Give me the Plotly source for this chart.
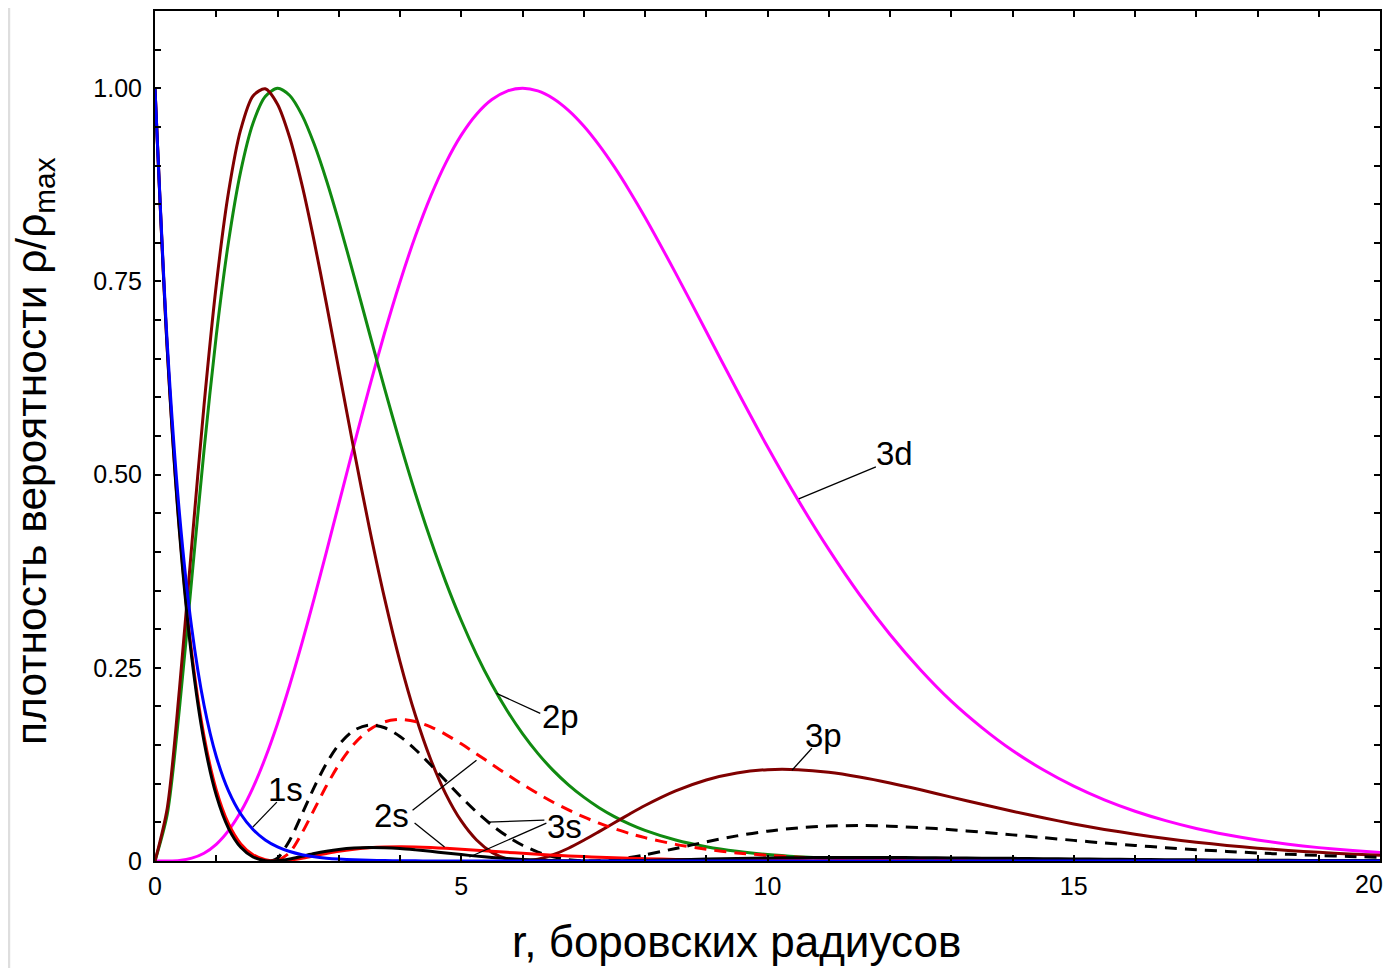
import plotly.graph_objects as go

# r grid (Bohr radii)
R = [0, 0.2, 0.4, 0.6, 0.8, 1.0, 1.2, 1.4, 1.6, 1.8, 2.0, 2.2, 2.4, 2.6, 2.8, 3.0,
     3.25, 3.5, 3.75, 4.0, 4.25, 4.5, 4.75, 5.0, 5.25, 5.5, 5.75, 6.0, 6.25, 6.5,
     6.75, 7.0, 7.25, 7.5, 7.75, 8.0,
     8.5, 9, 9.5, 10, 10.5, 11, 11.5, 12, 12.5, 13, 13.5, 14, 14.5, 15, 15.5, 16,
     16.5, 17, 17.5, 18, 18.5, 19, 19.5, 20]

s1 = [1, 0.6703, 0.4493, 0.3012, 0.2019, 0.1353, 0.0907, 0.0608, 0.0408, 0.0273,
      0.0183, 0.0123, 0.0082, 0.0055, 0.0037, 0.0025,
      0.0015, 0.0009, 0.0006, 0.0003, 0.0002, 0.0001, 0.0001, 0, 0, 0, 0, 0, 0, 0,
      0, 0, 0, 0, 0, 0,
      0, 0, 0, 0, 0, 0, 0, 0, 0, 0, 0, 0, 0, 0, 0, 0,
      0, 0, 0, 0, 0, 0, 0, 0]

s2 = [1, 0.6632, 0.4290, 0.2689, 0.1618, 0.0920, 0.0482, 0.0222, 0.0081, 0.0017,
      0, 0.0011, 0.0036, 0.0067, 0.0097, 0.0125,
      0.0151, 0.0170, 0.0180, 0.0183, 0.0181, 0.0174, 0.0164, 0.0152, 0.0139, 0.0125,
      0.0112, 0.0099, 0.0087, 0.0076, 0.0066, 0.0057, 0.0049, 0.0042, 0.0036, 0.0030,
      0.0021, 0.0015, 0.0011, 0.0007, 0.0005, 0.0003, 0.0002, 0.0002, 0.0001, 0.0001,
      0, 0, 0, 0, 0, 0, 0, 0, 0, 0, 0, 0, 0, 0]

s3 = [1, 0.6619, 0.4253, 0.2632, 0.1550, 0.0852, 0.0423, 0.0177, 0.0052, 0.0005,
      0.0004, 0.0027, 0.0061, 0.0096, 0.0126, 0.0150,
      0.0169, 0.0176, 0.0172, 0.0161, 0.0144, 0.0125, 0.0103, 0.0083, 0.0063, 0.0046,
      0.0032, 0.0020, 0.0012, 0.0005, 0.0002, 0, 0, 0.0002, 0.0005, 0.0008,
      0.0016, 0.0025, 0.0032, 0.0039, 0.0043, 0.0045, 0.0046, 0.0045, 0.0043, 0.0040,
      0.0037, 0.0034, 0.0030, 0.0027, 0.0023, 0.0020, 0.0017, 0.0015, 0.0012, 0.0010,
      0.0009, 0.0007, 0.0006, 0.0005]

p2 = [0, 0.0605, 0.1981, 0.3650, 0.5312, 0.6796, 0.8012, 0.8928, 0.9548, 0.9893,
      1.0, 0.9907, 0.9653, 0.9275, 0.8807, 0.8277,
      0.7566, 0.6833, 0.6109, 0.5414, 0.4759, 0.4156, 0.3606, 0.3112, 0.2672, 0.2284,
      0.1944, 0.1649, 0.1393, 0.1173, 0.0986, 0.0826, 0.0690, 0.0575, 0.0478, 0.0397,
      0.0272, 0.0185, 0.0125, 0.0084, 0.0056, 0.0037, 0.0025, 0.0016, 0.0011, 0.0007,
      0.0005, 0.0003, 0.0002, 0.0001, 0.0001, 0, 0, 0, 0, 0, 0, 0, 0, 0]

p3 = [0, 0.0684, 0.2231, 0.4085, 0.5893, 0.7451, 0.8654, 0.9467, 0.9901, 0.9993,
      0.9793, 0.9359, 0.8749, 0.8015, 0.7207, 0.6364,
      0.5312, 0.4310, 0.3392, 0.2581, 0.1889, 0.1317, 0.0863, 0.0518, 0.0272, 0.0112,
      0.0026, 0, 0.0022, 0.0081, 0.0165, 0.0268, 0.0380, 0.0495, 0.0609, 0.0718,
      0.0907, 0.1049, 0.1140, 0.1182, 0.1182, 0.1148, 0.1087, 0.1010, 0.0921, 0.0827,
      0.0734, 0.0644, 0.0559, 0.0480, 0.0409, 0.0347, 0.0291, 0.0243, 0.0202, 0.0166,
      0.0137, 0.0112, 0.0091, 0.0074]

d3 = [0, 0.0001, 0.0008, 0.0037, 0.0101, 0.0216, 0.0393, 0.0636, 0.0950, 0.1332,
      0.1777, 0.2277, 0.2822, 0.3402, 0.4005, 0.4618,
      0.5384, 0.6130, 0.6839, 0.7494, 0.8084, 0.8601, 0.9038, 0.9393, 0.9664, 0.9854,
      0.9964, 1.0, 0.9966, 0.9869, 0.9715, 0.9512, 0.9265, 0.8982, 0.8668, 0.8331,
      0.7608, 0.6852, 0.6095, 0.5361, 0.4670, 0.4032, 0.3450, 0.2931, 0.2472, 0.2069,
      0.1727, 0.1430, 0.1180, 0.0968, 0.0791, 0.0644, 0.0522, 0.0421, 0.0339, 0.0272,
      0.0217, 0.0173, 0.0138, 0.0109]

# x10 magnified curves (dashed)
R_2s10 = [2.0, 2.2, 2.4, 2.6, 2.8, 3.0, 3.25, 3.5, 3.75, 4.0, 4.25, 4.5, 4.75, 5.0,
          5.25, 5.5, 5.75, 6.0, 6.25, 6.5, 6.75, 7.0, 7.25, 7.5, 7.75, 8.0,
          8.5, 9, 9.5, 10, 10.5, 11, 11.5, 12, 12.5, 13, 13.5, 14, 14.5, 15, 15.5, 16,
          16.5, 17, 17.5, 18, 18.5, 19, 19.5, 20]
s2x10 = [0, 0.0111, 0.0363, 0.0668, 0.0973, 0.1245, 0.1515, 0.1699, 0.1801, 0.1832,
         0.1805, 0.1736, 0.1636, 0.1516, 0.1386, 0.1252, 0.1119, 0.0992, 0.0872, 0.0761,
         0.0661, 0.0570, 0.0489, 0.0418, 0.0356, 0.0302,
         0.0215, 0.0151, 0.0105, 0.0073, 0.0050, 0.0034, 0.0023, 0.0015, 0.0010, 0.0007,
         0.0005, 0.0003, 0.0002, 0.0001, 0, 0, 0, 0, 0, 0, 0, 0, 0, 0]

R_3s10 = [1.9, 2.0, 2.2, 2.4, 2.6, 2.8, 3.0, 3.25, 3.5, 3.75, 4.0, 4.25, 4.5, 4.75,
          5.0, 5.25, 5.5, 5.75, 6.0, 6.25, 6.5, 6.75, 7.0, 7.25, 7.5, 7.75, 8.0,
          8.5, 9, 9.5, 10, 10.5, 11, 11.5, 12, 12.5, 13, 13.5, 14, 14.5, 15, 15.5, 16,
          16.5, 17, 17.5, 18, 18.5, 19, 19.5, 20]
s3x10 = [0, 0.0036, 0.0270, 0.0607, 0.0956, 0.1264, 0.1504, 0.1692, 0.1759, 0.1724,
         0.1611, 0.1443, 0.1245, 0.1034, 0.0827, 0.0634, 0.0464, 0.0320, 0.0204, 0.0116,
         0.0055, 0.0017, 0.0001, 0.0003, 0.0019, 0.0046, 0.0080,
         0.0162, 0.0248, 0.0325, 0.0386, 0.0428, 0.0452, 0.0459, 0.0450, 0.0432, 0.0405,
         0.0373, 0.0338, 0.0302, 0.0267, 0.0233, 0.0201, 0.0173, 0.0147, 0.0124, 0.0104,
         0.0087, 0.0072, 0.0059, 0.0048]

X_TICKS = [0, 5, 10, 15, 20]
X_TICK_TEXT = ["0", "5", "10", "15", ""]   # "20" is drawn as an edge-aligned label
X_LAST_LABEL = "20"
Y_TICKS = [0, 0.25, 0.5, 0.75, 1.0]
Y_TICK_TEXT = ["0", "0.25", "0.50", "0.75", "1.00"]

# curve labels: text, label position, leader line segments
LABELS = [
    ("3d", 12.08, 0.528, [(10.51, 0.4687, 11.77, 0.5100)]),
    ("2p", 6.62, 0.187, [(5.575, 0.2169, 6.29, 0.1911)]),
    ("3p", 10.92, 0.163, [(10.40, 0.1175, 10.725, 0.1459)]),
    ("1s", 2.135, 0.092, [(1.597, 0.0439, 1.989, 0.0762)]),
    ("2s", 3.86, 0.059, [(4.205, 0.0658, 5.249, 0.1304), (4.238, 0.0491, 4.727, 0.0181)]),
    ("3s", 6.68, 0.045, [(5.428, 0.0504, 6.357, 0.0529), (5.134, 0.0052, 6.39, 0.0491)]),
]

FONT = "Arial, 'Liberation Sans', sans-serif"

fig = go.Figure()

def add(x, y, color, dash=None):
    fig.add_trace(go.Scatter(
        x=x, y=y, mode="lines",
        line=dict(color=color, width=3, shape="spline", smoothing=0.8,
                  dash=dash if dash else "solid"),
        hoverinfo="skip", showlegend=False))

add(R, d3, "#ff00ff")
add(R, p2, "#108a10")
add(R, p3, "#800000")
add(R_2s10, s2x10, "#ff0000", "12px,8px")
add(R_3s10, s3x10, "#000000", "12px,8px")
add(R, s2, "#ff0000")
add(R, s3, "#000000")
add(R, s1, "#0000ff")

for text, lx, ly, segs in LABELS:
    fig.add_annotation(x=lx, y=ly, text=text, showarrow=False,
                       font=dict(family=FONT, size=33, color="black"),
                       xanchor="center", yanchor="middle")
    for (x0, y0, x1, y1) in segs:
        fig.add_shape(type="line", x0=x0, y0=y0, x1=x1, y1=y1,
                      xref="x", yref="y", line=dict(color="black", width=1.3))

# last x tick label, kept inside the visible page edge
fig.add_annotation(x=1.0041, y=-0.0275, xref="paper", yref="paper",
                   text=X_LAST_LABEL, showarrow=False,
                   font=dict(family=FONT, size=25, color="black"),
                   xanchor="right", yanchor="middle")

# gray page border (left edge)
fig.add_shape(type="rect", xref="paper", yref="paper",
              x0=-0.1210, x1=-0.1182, y0=-0.1300, y1=1.0100,
              fillcolor="#dedede", line=dict(width=0), layer="below")

# axis titles
fig.add_annotation(x=0.4751, y=-0.0945, xref="paper", yref="paper",
                   text="r, боровских радиусов", showarrow=False,
                   font=dict(family=FONT, size=44, color="black"),
                   xanchor="center", yanchor="middle")
fig.add_annotation(x=-0.0980, y=0.4824, xref="paper", yref="paper",
                   text="плотность вероятности ρ/ρ<sub>max</sub>", showarrow=False,
                   textangle=-90,
                   font=dict(family=FONT, size=42.5, color="black"),
                   xanchor="center", yanchor="middle")

fig.update_xaxes(range=[0, 20], tickvals=X_TICKS, ticktext=X_TICK_TEXT,
                 ticks="inside", ticklen=6, tickwidth=1.5, tickcolor="black",
                 minor=dict(dtick=1, ticks="inside", ticklen=6, tickwidth=1.5, tickcolor="black"),
                 showline=True, linecolor="black", linewidth=2, mirror="ticks",
                 showgrid=False, zeroline=False,
                 tickfont=dict(family=FONT, size=25, color="black"),
                 ticklabelstandoff=2, ticklabeloverflow="allow")
fig.update_yaxes(range=[0, 1.1], tickvals=Y_TICKS, ticktext=Y_TICK_TEXT,
                 ticks="inside", ticklen=6, tickwidth=1.5, tickcolor="black",
                 minor=dict(dtick=0.05, ticks="inside", ticklen=6, tickwidth=1.5, tickcolor="black"),
                 showline=True, linecolor="black", linewidth=2, mirror="ticks",
                 showgrid=False, zeroline=False,
                 tickfont=dict(family=FONT, size=25, color="black"),
                 ticklabelstandoff=6, ticklabeloverflow="allow")

fig.update_layout(width=1386, height=960,
                  margin=dict(l=147, r=14, t=1, b=107),
                  paper_bgcolor="white", plot_bgcolor="white")

fig.write_html("out.html")
